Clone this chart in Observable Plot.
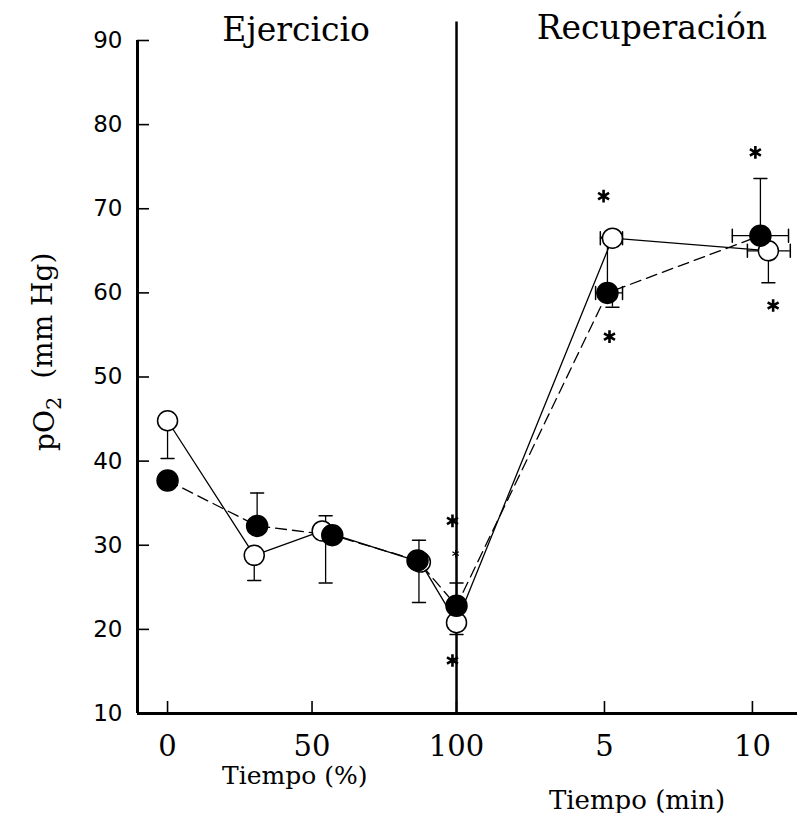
<!DOCTYPE html>
<html>
<head>
<meta charset="utf-8">
<script src="https://cdn.jsdelivr.net/npm/d3@7"></script>
<script src="https://cdn.jsdelivr.net/npm/@observablehq/plot@0.6"></script>
<style>
  html, body { margin: 0; padding: 0; background: #fff; }
  #chart svg { overflow: visible; }
</style>
</head>
<body>
<div id="chart"></div>
<script>
// ---- data ----
// phase: "ex" = exercise (% of time), "rec" = recovery (minutes)
const openPhase   = ["ex", "ex", "ex", "ex", "ex", "rec", "rec"];
const openT       = [0, 30, 53.5, 87.5, 100, 5.27, 10.54];
const openPO2     = [44.8, 28.8, 31.7, 28.0, 20.8, 66.5, 65.0];

const filledPhase = ["ex", "ex", "ex", "ex", "ex", "rec", "rec"];
const filledT     = [0, 31, 57, 86.5, 100, 5.1, 10.27];
const filledPO2   = [37.7, 32.3, 31.2, 28.2, 22.8, 60.0, 66.8];

// vertical error bars: from value to cap end
const vErrPhase = ["ex", "ex", "ex", "ex", "ex", "ex", "ex", "ex", "ex", "rec", "rec", "rec", "rec"];
const vErrT     = [0, 30, 31, 54.7, 54.7, 87, 87, 100, 100, 5.1, 5.27, 10.27, 10.54];
const vErrFrom  = [44.8, 28.8, 32.3, 31.5, 31.5, 28.0, 28.0, 22.8, 20.8, 60.0, 60.0, 66.8, 65.0];
const vErrTo    = [40.3, 25.8, 36.2, 33.5, 25.5, 30.6, 23.2, 25.5, 19.4, 66.6, 58.3, 73.6, 61.2];

// horizontal error bars (recovery, minutes)
const hErrP    = [66.5, 60.0, 66.8, 65.0];
const hErrLow  = [4.86, 4.7, 9.32, 9.83];
const hErrHigh = [5.61, 5.61, 11.22, 11.28];

// significance asterisks
const starPhase = ["ex", "ex", "ex", "rec", "rec", "rec", "rec"];
const starT     = [98.6, 99.7, 98.6, 4.97, 5.17, 10.1, 10.7];
const starP     = [32.9, 29.0, 16.3, 71.5, 54.8, 76.7, 58.5];
const starBig   = [true, false, true, true, true, true, true];

const xTickPhase  = ["ex", "ex", "ex", "rec", "rec"];
const xTickT      = [0, 50, 100, 5, 10];
const xTickLabels = ["0", "50", "100", "5", "10"];
const yTicks = [10, 20, 30, 40, 50, 60, 70, 80, 90];

// ---- combined x coordinate: exercise % then recovery minutes ----
const toU = (phase, t) => phase === "ex" ? t : 100 + t * 10.24;
const xMin = -10.4, xMax = 218;
const yMin = 10, yMax = 90;

// layout
const W = 799, H = 813, mL = 137, mR = 2, mT = 40, mB = 100;
const tickPx = 12;
const tickDX = tickPx * (xMax - xMin) / (W - mL - mR);   // tick length in x units
const tickDY = tickPx * (yMax - yMin) / (H - mT - mB);   // tick length in y units

const openPts   = openT.map((t, i) => ({u: toU(openPhase[i], t), p: openPO2[i]}));
const filledPts = filledT.map((t, i) => ({u: toU(filledPhase[i], t), p: filledPO2[i]}));
const vErr = vErrT.map((t, i) => ({u: toU(vErrPhase[i], t), from: vErrFrom[i], to: vErrTo[i]}));
const hErr = hErrP.map((p, i) => ({p, lo: toU("rec", hErrLow[i]), hi: toU("rec", hErrHigh[i])}));
const hCaps = hErr.flatMap(d => [{u: d.lo, p: d.p}, {u: d.hi, p: d.p}]);
const stars = starT.map((t, i) => ({u: toU(starPhase[i], t), p: starP[i], big: starBig[i]}));
const xTicks = xTickT.map((t, i) => toU(xTickPhase[i], t));
const xLabelMap = new Map(xTicks.map((u, i) => [u, xTickLabels[i]]));

const serif = "DejaVu Serif";

const chart = Plot.plot({
  width: W,
  height: H,
  marginLeft: mL,
  marginRight: mR,
  marginTop: mT,
  marginBottom: mB,
  x: {domain: [xMin, xMax]},
  y: {domain: [yMin, yMax]},
  style: {background: "#fff", color: "#000"},
  marks: [
    Plot.axisY({ticks: yTicks, tickSize: 0, tickPadding: 15, label: null,
      fontFamily: "DejaVu Sans", fontSize: 23}),
    Plot.axisX({ticks: xTicks, tickFormat: d => xLabelMap.get(d), tickSize: 0, tickPadding: 22,
      label: null, fontFamily: serif, fontSize: 29}),
    // inward ticks
    Plot.ruleY(yTicks, {x1: xMin, x2: xMin + tickDX, stroke: "#000", strokeWidth: 1.6}),
    Plot.ruleX(xTicks, {y1: yMin, y2: yMin + tickDY, stroke: "#000", strokeWidth: 1.6}),
    // axis lines and phase separator
    Plot.ruleX([xMin], {y1: yMin, y2: yMax, strokeWidth: 3}),
    Plot.ruleY([yMin], {x1: xMin, x2: xMax, strokeWidth: 3}),
    Plot.ruleX([toU("ex", 100)], {y1: yMin, y2: 92.2, strokeWidth: 2.5}),
    // connecting lines
    Plot.line(filledPts, {x: "u", y: "p", stroke: "#000", strokeWidth: 1.3, strokeDasharray: "11,6"}),
    Plot.line(openPts, {x: "u", y: "p", stroke: "#000", strokeWidth: 1.3}),
    // error bars
    Plot.ruleX(vErr, {x: "u", y1: "from", y2: "to", strokeWidth: 1.3}),
    Plot.vector(vErr, {x: "u", y: "to", length: 13, rotate: 90, anchor: "middle", shape: "spike", r: 0,
      stroke: "#000", strokeWidth: 1.5}),
    Plot.ruleY(hErr, {y: "p", x1: "lo", x2: "hi", strokeWidth: 1.3}),
    Plot.vector(hCaps, {x: "u", y: "p", length: 13, anchor: "middle", shape: "spike", r: 0,
      stroke: "#000", strokeWidth: 1.5}),
    // points
    Plot.dot(openPts, {x: "u", y: "p", r: 10, fill: "#fff", stroke: "#000", strokeWidth: 1.5}),
    Plot.dot(filledPts, {x: "u", y: "p", r: 10.5, fill: "#000", stroke: "#000"}),
    // asterisks
    Plot.dot(stars.filter(d => d.big), {x: "u", y: "p", symbol: "asterisk", r: 6, stroke: "#000", strokeWidth: 2.6}),
    Plot.dot(stars.filter(d => !d.big), {x: "u", y: "p", symbol: "asterisk", r: 3.5, stroke: "#000", strokeWidth: 1.2}),
    // titles
    Plot.text(["Ejercicio"], {x: () => toU("ex", 44.5), y: () => yMax, dy: 0, lineAnchor: "bottom",
      fontFamily: serif, fontSize: 33, fill: "#000"}),
    Plot.text(["Recuperación"], {x: () => toU("rec", 6.6), y: () => yMax, dy: -2, lineAnchor: "bottom",
      fontFamily: serif, fontSize: 33, fill: "#000"}),
    Plot.text(["Tiempo (%)"], {x: () => toU("ex", 44), y: () => yMin, dy: 70, lineAnchor: "bottom",
      fontFamily: serif, fontSize: 25, fill: "#000"}),
    Plot.text(["Tiempo (min)"], {x: () => toU("rec", 6.1), y: () => yMin, dy: 95, lineAnchor: "bottom",
      fontFamily: serif, fontSize: 26, fill: "#000"}),
    Plot.text(["pO2  (mm Hg)"], {frameAnchor: "left", y: () => 53, dx: -92, rotate: -90, textAnchor: "middle",
      fontFamily: serif, fontSize: 28, fill: "#000", className: "ylab"})
  ]
});
document.getElementById("chart").appendChild(chart);

// render the "2" of pO2 as a subscript
d3.select(chart).selectAll("text").filter(function () { return this.textContent === "pO2  (mm Hg)"; })
  .each(function () {
    const t = d3.select(this);
    t.text(null);
    t.append("tspan").text("pO");
    t.append("tspan").attr("dy", "0.3em").attr("font-size", 21).text("2");
    t.append("tspan").attr("dy", "-0.3em").text("\u00a0 (mm Hg)");
  });
</script>
</body>
</html>
